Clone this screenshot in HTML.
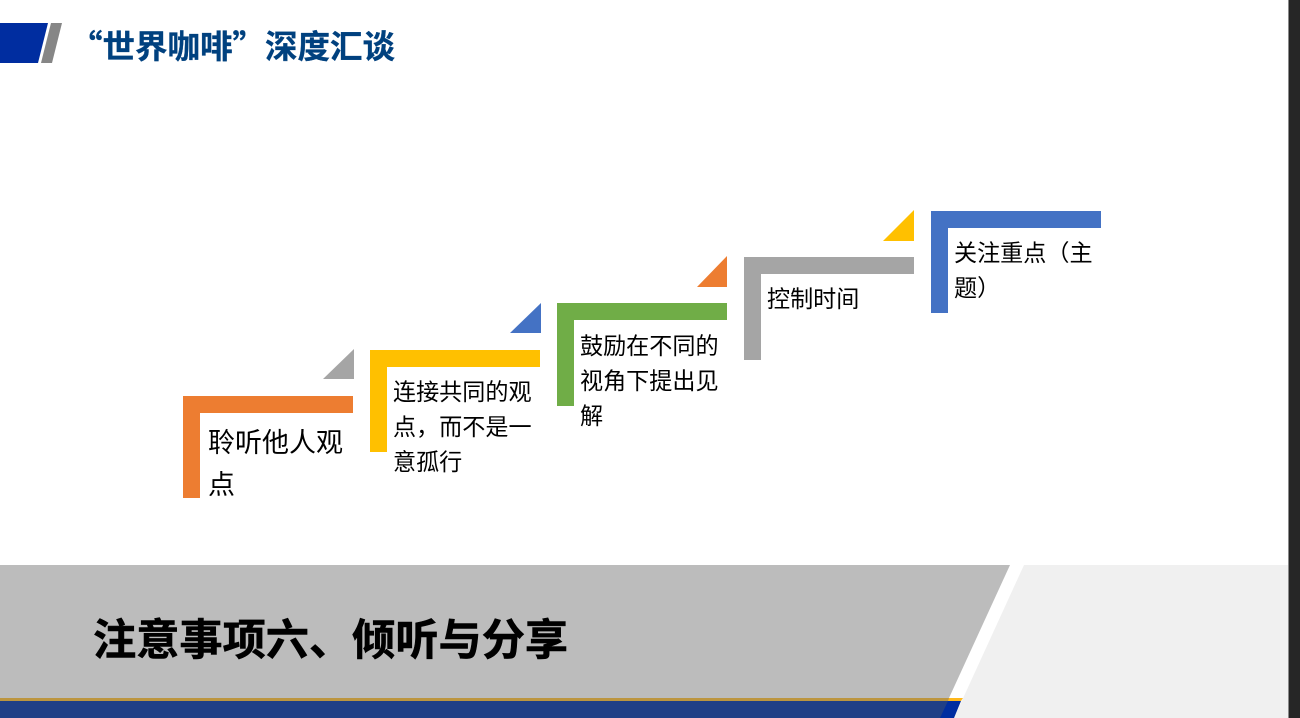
<!DOCTYPE html>
<html lang="zh">
<head>
<meta charset="utf-8">
<style>
html,body{margin:0;padding:0;background:#fff}
#s{position:relative;width:1300px;height:718px;overflow:hidden;background:#fff;font-family:"Liberation Sans","Noto Sans CJK SC",sans-serif}
svg{position:absolute;left:0;top:0}
.t{position:absolute;white-space:nowrap;color:#000;font-family:"Noto Sans CJK SC",sans-serif;font-size:23.1px;line-height:35.3px}
.b{position:absolute;white-space:nowrap;font-family:"Noto Sans CJK SC",sans-serif;font-weight:700}
</style>
</head>
<body>
<div id="s">
<svg width="1300" height="718" viewBox="0 0 1300 718">
<polygon points="0,23 48,23 38,63 0,63" fill="#002da0"/>
<polygon points="51,23 62,23 52,63 41,63" fill="#868686"/>

<polygon points="1024,565 1289,565 1289,718 954,718" fill="#f0f0f0"/>
<polygon points="0,565 1010,565 949,698 0,698" fill="#bcbcbc"/>
<polygon points="0,698 963,698 961,701 0,701" fill="#ffb81c"/>
<polygon points="0,698 949,698 948,701 0,701" fill="#bc953f"/>
<polygon points="0,701 961,701 954,718 0,718" fill="#002da0"/>
<polygon points="0,701 948,701 940,718 0,718" fill="#203f86"/>

<path d="M183 396H353V413H200V498H183Z" fill="#ed7d31"/>
<path d="M370 350H540V367H387V452H370Z" fill="#ffc000"/>
<path d="M557 303H727V320H574V406H557Z" fill="#70ad47"/>
<path d="M744 257H914V274H761V360H744Z" fill="#a5a5a5"/>
<path d="M931 211H1101V228H948V313H931Z" fill="#4472c4"/>

<polygon points="354,349 354,379 323,379" fill="#a5a5a5"/>
<polygon points="541,303 541,333 510,333" fill="#4472c4"/>
<polygon points="727,256 727,287 697,287" fill="#ed7d31"/>
<polygon points="914,210 914,241 883,241" fill="#ffc000"/>

<rect x="1288" y="0" width="12" height="718" fill="#262626"/>
<rect x="1288" y="0" width="1" height="718" fill="#8a8a8a"/>
</svg>

<div class="b" style="left:70px;top:22px;font-size:32.5px;line-height:46px;color:#00417f;-webkit-text-stroke:0.3px #00417f">“世界咖啡”深度汇谈</div>
<div class="b" style="left:93px;top:606px;font-size:43.2px;line-height:62px;color:#000;-webkit-text-stroke:0.6px #000">注意事项六、倾听与分享</div>

<div class="t" style="left:208px;top:420px;font-size:27px;line-height:42px">聆听他人观<br>点</div>
<div class="t" style="left:393px;top:372.5px">连接共同的观<br>点，而不是一<br>意孤行</div>
<div class="t" style="left:580px;top:326.5px">鼓励在不同的<br>视角下提出见<br>解</div>
<div class="t" style="left:767px;top:279.5px">控制时间</div>
<div class="t" style="left:954px;top:233.5px">关注重点（主<br>题）</div>
</div>
</body>
</html>
